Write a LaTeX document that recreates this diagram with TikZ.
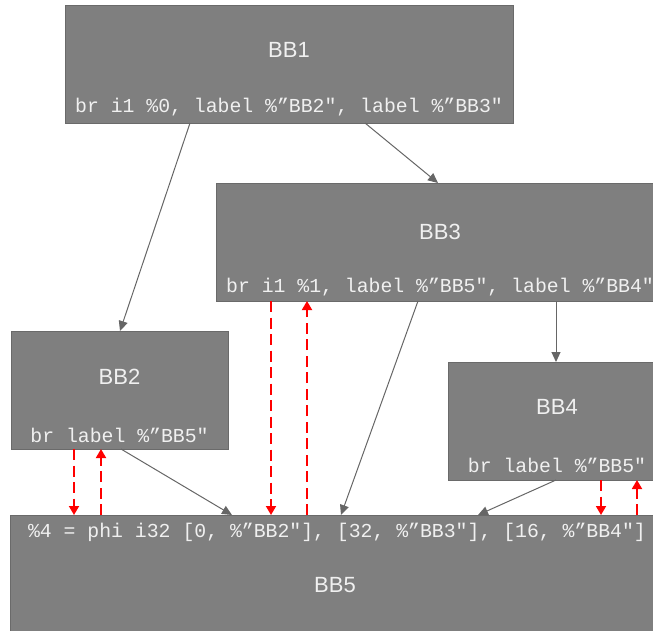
\documentclass[tikz,border=0pt]{standalone}
\usepackage{fontspec}
\setmainfont{Liberation Sans}
\newfontfamily\codefont{Liberation Mono}
\usetikzlibrary{arrows.meta,calc}
\definecolor{boxfill}{HTML}{7F7F7F}
\definecolor{boxedge}{HTML}{6A6A6A}
\definecolor{linegray}{HTML}{666666}
\definecolor{txt}{HTML}{F0F0F0}
\begin{document}
\begin{tikzpicture}[x=1pt,y=-1pt,
  block/.style={draw=boxedge, line width=1pt, fill=boxfill, anchor=north west,
    inner sep=0pt, outer sep=0pt, minimum height=118pt},
  title/.style={text=txt, font=\fontsize{22}{26}\selectfont, inner sep=0pt, anchor=base},
  code/.style={text=txt, font=\codefont\fontsize{19.8}{24}\selectfont, inner sep=0pt, anchor=base},
  flow/.style={draw=linegray, line width=1pt, -{Triangle[length=10pt,width=9pt]}},
  dep/.style={draw=red, line width=1.8pt, dash pattern=on 11pt off 5.5pt,
    -{Triangle[length=9pt,width=10pt]}}]
\useasboundingbox (0,0) rectangle (653,630);

% blocks
\node[block, minimum width=448pt] (bb1) at (65,5) {};
\node[block, minimum width=448pt] (bb3) at (216,183) {};
\node[block, minimum width=217pt] (bb2) at (11,331) {};
\node[block, minimum width=218pt] (bb4) at (448,362) {};
\node[block, minimum width=650pt] (bb5) at (10,515) {};

% texts
\node[title] (t1) at (289,57) {BB1};
\node[code] (c1) at (289,112) {br i1 \%0, label \%”BB2", label \%”BB3"};
\node[title] (t3) at (440,239) {BB3};
\node[code] (c3) at (440,292) {br i1 \%1, label \%”BB5", label \%”BB4"};
\node[title] (t2) at (119.5,384) {BB2};
\node[code] (c2) at (119.5,442) {br label \%”BB5"};
\node[title] (t4) at (557,414) {BB4};
\node[code] (c4) at (557,472) {br label \%”BB5"};
\node[code] (c5) at (337,537) {\%4 = phi i32 [0, \%”BB2"], [32, \%”BB3"], [16, \%”BB4"]};
\node[title] (t5) at (335,592) {BB5};

% control flow
\draw[flow] ($(bb1.south west)+(125,0)$) -- ($(bb2.north west)+(109,0)$);
\draw[flow] ($(bb1.south west)+(300,0)$) -- ($(bb3.north west)+(222,0)$);
\draw[flow] ($(bb3.south west)+(340,0)$) -- ($(bb4.north west)+(108,0)$);
\draw[flow] ($(bb3.south west)+(202,0)$) -- ($(bb5.north west)+(331,0)$);
\draw[flow] ($(bb2.south west)+(110,0)$) -- ($(bb5.north west)+(222,0)$);
\draw[flow] ($(bb4.south west)+(108,0)$) -- ($(bb5.north west)+(468,0)$);

% dependencies
\draw[dep] ($(bb2.south west)+(63,0)$) -- ($(bb5.north west)+(64,0)$);
\draw[dep] ($(bb5.north west)+(91,0)$) -- ($(bb2.south west)+(90,0)$);
\draw[dep] ($(bb3.south west)+(55,0)$) -- ($(bb5.north west)+(261,0)$);
\draw[dep] ($(bb5.north west)+(297,0)$) -- ($(bb3.south west)+(91,0)$);
\draw[dep] ($(bb4.south west)+(153,0)$) -- ($(bb5.north west)+(591,0)$);
\draw[dep] ($(bb5.north west)+(627,0)$) -- ($(bb4.south west)+(189,0)$);
\end{tikzpicture}
\end{document}
